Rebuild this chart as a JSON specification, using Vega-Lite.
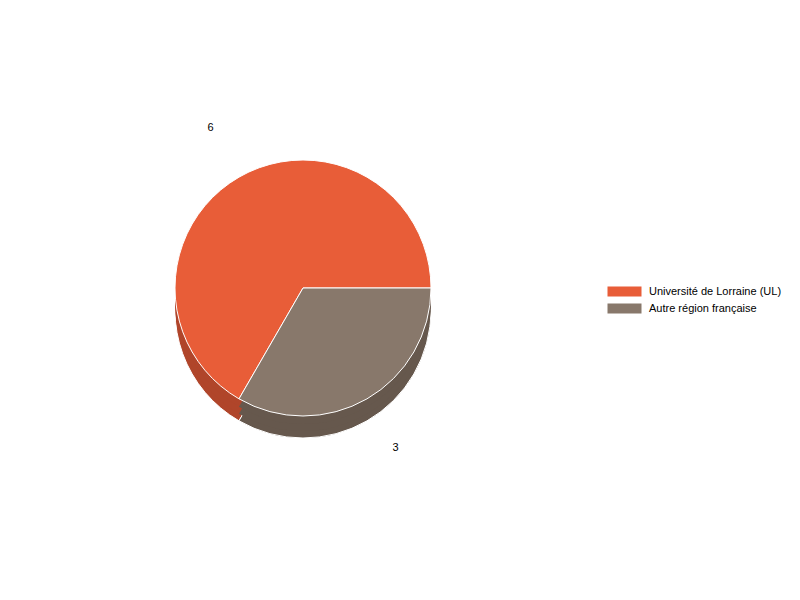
{
  "$schema": "https://vega.github.io/schema/vega-lite/v6.json",
  "autosize": {"type": "none"},
  "width": 606,
  "height": 576,
  "padding": {"left": 0, "top": 0, "right": 194, "bottom": 24},
  "background": "white",
  "config": {
    "view": {"stroke": null},
    "font": "Liberation Sans"
  },
  "data": {
    "values": [
      {"categorie": "Université de Lorraine (UL)", "effectif": 6},
      {"categorie": "Autre région française", "effectif": 3}
    ]
  },
  "encoding": {
    "theta": {
      "field": "effectif",
      "type": "quantitative",
      "stack": true,
      "scale": {"range": [1.5708, 7.854]}
    },
    "order": {"field": "categorie", "type": "nominal", "sort": "ascending"}
  },
  "layer": [
    {
      "mark": {"type": "arc", "outerRadius": 128, "yOffset": 22, "stroke": "#ffffff", "strokeWidth": 1},
      "encoding": {
        "color": {
          "condition": {"test": "datum.categorie === 'Autre région française'", "value": "#66584D"},
          "value": "#B0452A"
        }
      }
    },
    {
      "mark": {"type": "arc", "outerRadius": 128, "yOffset": 15},
      "encoding": {
        "color": {
          "condition": {"test": "datum.categorie === 'Autre région française'", "value": "#66584D"},
          "value": "#B0452A"
        }
      }
    },
    {
      "mark": {"type": "arc", "outerRadius": 128, "yOffset": 8},
      "encoding": {
        "color": {
          "condition": {"test": "datum.categorie === 'Autre région française'", "value": "#66584D"},
          "value": "#B0452A"
        }
      }
    },
    {
      "mark": {"type": "arc", "outerRadius": 128, "stroke": "#ffffff", "strokeWidth": 1},
      "encoding": {
        "color": {
          "field": "categorie",
          "type": "nominal",
          "scale": {
            "domain": ["Université de Lorraine (UL)", "Autre région française"],
            "range": ["#E85D38", "#88786B"]
          },
          "legend": {
            "title": null,
            "orient": "none",
            "legendX": 619,
            "legendY": 286,
            "padding": 0,
            "symbolType": "M-3.4,-1H3.4V1H-3.4Z",
            "symbolSize": 100,
            "symbolStrokeWidth": 0,
            "symbolOpacity": 1,
            "labelOffset": 19,
            "labelFontSize": 11,
            "labelColor": "#000000",
            "labelFont": "Liberation Sans",
            "rowPadding": 5,
            "labelLimit": 300
          }
        }
      }
    },
    {
      "mark": {"type": "text", "radius": 185, "fontSize": 11, "font": "Liberation Sans", "color": "#000000"},
      "encoding": {
        "text": {"field": "effectif", "type": "quantitative"}
      }
    }
  ]
}
